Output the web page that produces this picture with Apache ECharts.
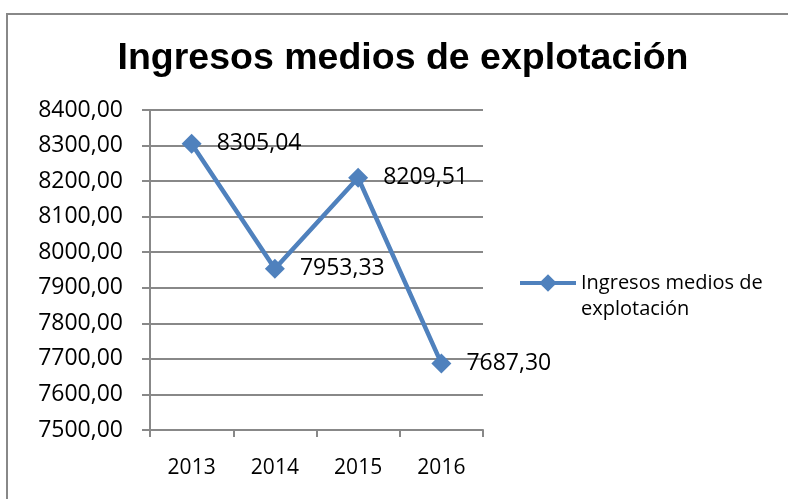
<!DOCTYPE html>
<html>
<head>
<meta charset="utf-8">
<script src="https://cdn.jsdelivr.net/npm/echarts@6/dist/echarts.min.js"></script>
<style>
    html, body { margin: 0; padding: 0; background: #fff; }
    #chart { width: 788px; height: 499px; }
</style>
</head>
<body>
<div id="chart"></div>
<script>
const years = ["2013", "2014", "2015", "2016"];
const ingresos = [8305.04, 7953.33, 8209.51, 7687.30];
const seriesName = "Ingresos medios de explotación";

const fmt = (v) => v.toFixed(2).replace(".", ",");
const labelFont = "Open Sans";

const chart = echarts.init(document.getElementById("chart"));
chart.setOption({
    backgroundColor: "#fff",
    animation: false,
    graphic: [
        {
            type: "rect",
            shape: { x: 7, y: 14, width: 800, height: 500 },
            style: { fill: "none", stroke: "#888", lineWidth: 2 },
        },
    ],
    title: {
        text: "Ingresos medios de explotación",
        left: 398,
        textAlign: "center",
        top: 35,
        textStyle: {
            fontFamily: "Liberation Sans",
            fontWeight: "bold",
            fontSize: 37.5,
            color: "#000",
        },
    },
    grid: { left: 150, right: 305, top: 110, bottom: 69 },
    legend: {
        left: 513,
        top: 239,
        itemWidth: 56,
        itemHeight: 22,
        itemGap: 4,
        data: [seriesName],
        lineStyle: { width: 4 },
        // blank first line keeps the icon level with the first text line
        formatter: () => "\nIngresos medios de\nexplotación",
        textStyle: {
            fontFamily: labelFont,
            fontSize: 20,
            lineHeight: 26,
            color: "#000",
        },
    },
    xAxis: {
        type: "category",
        data: years,
        boundaryGap: true,
        axisLine: { lineStyle: { color: "#888", width: 2 } },
        axisTick: { show: true, length: 7, lineStyle: { color: "#888", width: 2 } },
        axisLabel: { margin: 28, color: "#000", fontFamily: labelFont, fontSize: 21 },
    },
    yAxis: {
        type: "value",
        min: 7500,
        max: 8400,
        interval: 100,
        axisLine: { show: true, lineStyle: { color: "#888", width: 2 } },
        axisTick: { show: true, length: 8, lineStyle: { color: "#888", width: 2 } },
        splitLine: { lineStyle: { color: "#888", width: 2 } },
        axisLabel: {
            margin: 27,
            color: "#000",
            fontFamily: labelFont,
            fontSize: 23,
            formatter: (v) => fmt(v),
        },
    },
    series: [
        {
            name: seriesName,
            type: "line",
            data: ingresos,
            symbol: "diamond",
            symbolSize: 20,
            lineStyle: { color: "#4F81BD", width: 4.5 },
            itemStyle: { color: "#4F81BD" },
            label: {
                show: true,
                position: "right",
                distance: 15,
                color: "#000",
                fontFamily: labelFont,
                fontSize: 23,
                formatter: (p) => fmt(p.value),
            },
        },
    ],
});
</script>
</body>
</html>
